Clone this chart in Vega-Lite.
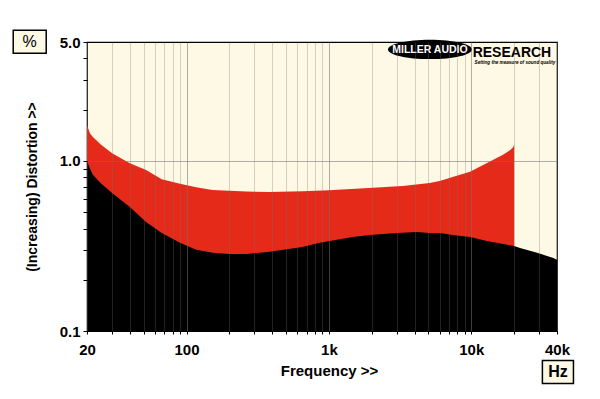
{
  "$schema": "https://vega.github.io/schema/vega-lite/v6.json",
  "width": 470,
  "height": 289,
  "autosize": "none",
  "padding": {"left": 87, "top": 42, "right": 43, "bottom": 68},
  "background": "#ffffff",
  "view": {"fill": "#FEF9E4", "stroke": "#000000", "strokeWidth": 1.2},
  "datasets": {
    "upper": [
      {"f": 20, "v": 1.62}, {"f": 21, "v": 1.45}, {"f": 22, "v": 1.38}, {"f": 25, "v": 1.25},
      {"f": 30, "v": 1.11}, {"f": 40, "v": 0.97}, {"f": 52, "v": 0.885}, {"f": 67, "v": 0.78},
      {"f": 90, "v": 0.735}, {"f": 117, "v": 0.70}, {"f": 152, "v": 0.675}, {"f": 200, "v": 0.667},
      {"f": 264, "v": 0.66}, {"f": 383, "v": 0.657}, {"f": 650, "v": 0.662}, {"f": 1000, "v": 0.672},
      {"f": 1900, "v": 0.692}, {"f": 3300, "v": 0.713}, {"f": 5100, "v": 0.742}, {"f": 6000, "v": 0.763},
      {"f": 7400, "v": 0.805}, {"f": 9800, "v": 0.862}, {"f": 12900, "v": 0.973}, {"f": 16700, "v": 1.085},
      {"f": 18800, "v": 1.16}, {"f": 19600, "v": 1.2}, {"f": 20000, "v": 1.24}
    ],
    "lower": [
      {"f": 20, "v": 1.0}, {"f": 21, "v": 0.9}, {"f": 22, "v": 0.83}, {"f": 25, "v": 0.74},
      {"f": 30, "v": 0.648}, {"f": 40, "v": 0.536}, {"f": 52, "v": 0.438}, {"f": 67, "v": 0.377},
      {"f": 90, "v": 0.33}, {"f": 117, "v": 0.30}, {"f": 152, "v": 0.288}, {"f": 200, "v": 0.284},
      {"f": 264, "v": 0.284}, {"f": 383, "v": 0.292}, {"f": 650, "v": 0.312}, {"f": 860, "v": 0.33},
      {"f": 1470, "v": 0.357}, {"f": 1940, "v": 0.367}, {"f": 3000, "v": 0.377}, {"f": 4150, "v": 0.382},
      {"f": 5100, "v": 0.377}, {"f": 6000, "v": 0.377}, {"f": 7400, "v": 0.367}, {"f": 9800, "v": 0.357},
      {"f": 12900, "v": 0.338}, {"f": 20000, "v": 0.316}, {"f": 22000, "v": 0.308}, {"f": 29000, "v": 0.288},
      {"f": 37700, "v": 0.269}, {"f": 40000, "v": 0.262}
    ],
    "one": [{"k": 1}]
  },
  "layer": [
    {
      "data": {"name": "upper"},
      "mark": {"type": "area", "color": "#E62A1A", "interpolate": "linear"},
      "encoding": {
        "x": {
          "field": "f", "type": "quantitative",
          "scale": {"type": "log", "domain": [20, 40000], "nice": false},
          "axis": {
            "values": [20,30,40,50,60,70,80,90,100,200,300,400,500,600,700,800,900,1000,2000,3000,4000,5000,6000,7000,8000,9000,10000,20000,30000,40000],
            "labelExpr": "datum.value==20?'20':datum.value==100?'100':datum.value==1000?'1k':datum.value==10000?'10k':datum.value==40000?'40k':''",
            "grid": true,
            "gridColor": "#707070",
            "gridOpacity": {"condition": {"test": "datum.value==100||datum.value==1000||datum.value==10000", "value": 0.55}, "value": 0.3},
            "gridWidth": 1,
            "domain": false,
            "ticks": true, "tickSize": 3, "tickColor": "#000000",
            "labelFont": "Liberation Sans", "labelFontWeight": "bold", "labelFontSize": 15, "labelColor": "#000000",
            "labelPadding": 8, "labelOverlap": false, "labelFlush": false,
            "title": "Frequency >>", "titleFont": "Liberation Sans", "titleFontSize": 15, "titleFontWeight": "bold",
            "titleColor": "#000000", "titlePadding": 6, "titleX": 242,
            "zindex": 1
          }
        },
        "y": {
          "field": "v", "type": "quantitative",
          "scale": {"type": "log", "domain": [0.1, 5], "nice": false},
          "axis": {
            "values": [0.1,0.2,0.3,0.4,0.5,0.6,0.7,0.8,0.9,1,2,3,4,5],
            "labelExpr": "datum.value==0.1?'0.1':datum.value==1?'1.0':datum.value==5?'5.0':''",
            "grid": true,
            "gridColor": "#707070",
            "gridOpacity": {"condition": {"test": "datum.value==1", "value": 0.55}, "value": 0},
            "domain": false,
            "ticks": true, "tickSize": 4, "tickColor": "#000000",
            "labelFont": "Liberation Sans", "labelFontWeight": "bold", "labelFontSize": 15, "labelColor": "#000000",
            "labelPadding": 3, "labelOverlap": false, "labelFlush": false,
            "title": "(Increasing) Distortion >>", "titleFont": "Liberation Sans", "titleFontSize": 14, "titleFontWeight": "bold",
            "titleColor": "#000000", "titlePadding": 20,
            "zindex": 1
          }
        },
        "y2": {"datum": 0.1}
      }
    },
    {
      "data": {"name": "lower"},
      "mark": {"type": "area", "color": "#000000", "interpolate": "linear"},
      "encoding": {
        "x": {"field": "f", "type": "quantitative"},
        "y": {"field": "v", "type": "quantitative"},
        "y2": {"datum": 0.1}
      }
    },
    {
      "data": {"name": "one"},
      "mark": {"type": "point", "shape": "M-1.435,-1H1.435V1H-1.435Z", "size": 529, "filled": true, "fill": "#FEF9E4", "stroke": "#000000", "strokeWidth": 1.5, "opacity": 1},
      "encoding": {
        "x": {"datum": 7.92, "type": "quantitative"},
        "y": {"datum": 5.02, "type": "quantitative"}
      }
    },
    {
      "data": {"name": "one"},
      "mark": {"type": "text", "text": "%", "font": "Liberation Sans", "fontSize": 16, "color": "#000000", "align": "center", "baseline": "middle"},
      "encoding": {
        "x": {"datum": 7.92, "type": "quantitative"},
        "y": {"datum": 5.02, "type": "quantitative"}
      }
    },
    {
      "data": {"name": "one"},
      "mark": {"type": "point", "shape": "M-1.35,-1H1.35V1H-1.35Z", "size": 529, "filled": true, "fill": "#FEF9E4", "stroke": "#000000", "strokeWidth": 1.5, "opacity": 1},
      "encoding": {
        "x": {"datum": 40600, "type": "quantitative"},
        "y": {"datum": 0.0574, "type": "quantitative"}
      }
    },
    {
      "data": {"name": "one"},
      "mark": {"type": "text", "text": "Hz", "font": "Liberation Sans", "fontSize": 16, "fontWeight": "bold", "color": "#000000", "align": "center", "baseline": "middle"},
      "encoding": {
        "x": {"datum": 40600, "type": "quantitative"},
        "y": {"datum": 0.0574, "type": "quantitative"}
      }
    },
    {
      "data": {"name": "one"},
      "mark": {"type": "point", "shape": "M-1,0C-1,-0.127,-0.5523,-0.23,0,-0.23C0.5523,-0.23,1,-0.127,1,0C1,0.127,0.5523,0.23,0,0.23C-0.5523,0.23,-1,0.127,-1,0Z", "size": 7056, "filled": true, "fill": "#000000", "strokeWidth": 0, "opacity": 1},
      "encoding": {
        "x": {"datum": 5126, "type": "quantitative"},
        "y": {"datum": 4.52, "type": "quantitative"}
      }
    },
    {
      "data": {"name": "one"},
      "mark": {"type": "text", "text": "MILLER AUDIO", "font": "Liberation Sans", "fontSize": 10.5, "fontWeight": "bold", "color": "#ffffff", "align": "center", "baseline": "middle", "dy": 1},
      "encoding": {
        "x": {"datum": 5126, "type": "quantitative"},
        "y": {"datum": 4.52, "type": "quantitative"}
      }
    },
    {
      "data": {"name": "one"},
      "mark": {"type": "text", "text": "RESEARCH", "font": "Liberation Sans", "fontSize": 14, "fontWeight": "bold", "color": "#000000", "align": "center", "baseline": "middle", "dy": 1},
      "encoding": {
        "x": {"datum": 19300, "type": "quantitative"},
        "y": {"datum": 4.34, "type": "quantitative"}
      }
    },
    {
      "data": {"name": "one"},
      "mark": {"type": "text", "text": "Setting the measure of sound quality", "font": "Liberation Sans", "fontSize": 4.6, "fontWeight": "bold", "fontStyle": "italic", "color": "#000000", "align": "center", "baseline": "middle"},
      "encoding": {
        "x": {"datum": 20260, "type": "quantitative"},
        "y": {"datum": 3.76, "type": "quantitative"}
      }
    }
  ]
}
